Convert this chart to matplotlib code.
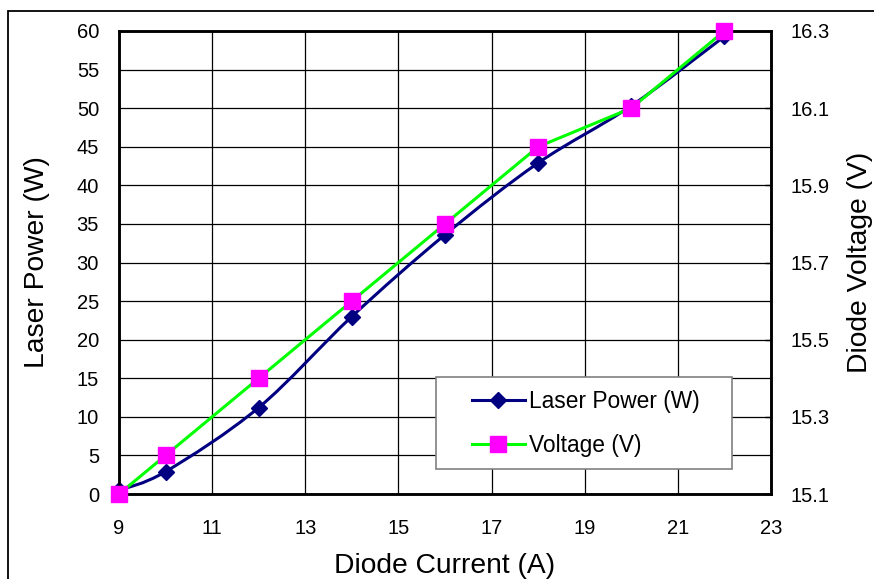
import numpy as np
import matplotlib
matplotlib.use("Agg")
import matplotlib.pyplot as plt
from matplotlib.path import Path
from matplotlib.patches import PathPatch, Rectangle
from matplotlib.lines import Line2D

plt.rcParams['font.family'] = ['Liberation Sans', 'DejaVu Sans']

current = [9, 10, 12, 14, 16, 18, 20, 22]
laser_power = [0.5, 2.9, 11.2, 23.0, 33.6, 42.9, 50.3, 59.3]
voltage = [15.1, 15.2, 15.4, 15.6, 15.8, 16.0, 16.1, 16.3]
x_ticks = [9, 11, 13, 15, 17, 19, 21, 23]
left_ticks = list(range(0, 61, 5))
right_ticks = [15.1, 15.3, 15.5, 15.7, 15.9, 16.1, 16.3]

NAVY = '#000080'
GREEN = '#00FF00'
MAGENTA = '#FF00FF'

fig = plt.figure(figsize=(8.74, 5.79), dpi=100)
W, H = 874, 579
AX_L, AX_R, AX_T, AX_B = 119, 771, 31, 494
ax = fig.add_axes([AX_L / W, 1 - AX_B / H, (AX_R - AX_L) / W, (AX_B - AX_T) / H])
ax2 = ax.twinx()


def axfrac(px, py):
    return ((px - AX_L) / (AX_R - AX_L), 1 - (py - AX_T) / (AX_B - AX_T))


# outer frame (partially cropped like the reference)
fig.patches.append(Rectangle((8 / W, -0.05), 1.1, 1 - 11 / H + 0.05, transform=fig.transFigure,
                             fill=False, edgecolor='black', linewidth=1.3, zorder=0))

ax.set_xlim(9, 23)
ax.set_ylim(0, 60)
ax2.set_ylim(15.1, 16.3)
ax.set_xticks(x_ticks)
ax.set_yticks(left_ticks)
ax2.set_yticks(right_ticks)
ax.grid(True, color='black', linewidth=0.9)
ax.tick_params(axis='x', length=0, labelsize=14.5, pad=18)
ax.tick_params(axis='y', length=0, labelsize=14.5, pad=14.4)
ax2.tick_params(axis='y', direction='in', length=4, width=1, labelsize=14.5, pad=14.4)
for a in (ax, ax2):
    for s in a.spines.values():
        s.set_linewidth(1.8)

ax.set_xlabel('Diode Current (A)', fontsize=20.3, labelpad=10.5)
ax.set_ylabel('Laser Power (W)', fontsize=20.3, labelpad=19)
ax2.set_ylabel('Diode Voltage (V)', fontsize=20.3, labelpad=12)

# smoothed laser power curve (Catmull-Rom style Bezier)
xs = np.array(current, float)
ys = np.array(laser_power, float)
verts = [(xs[0], ys[0])]
codes = [Path.MOVETO]
t = 1 / 6
n = len(xs)
for i in range(n - 1):
    p0 = (xs[max(i - 1, 0)], ys[max(i - 1, 0)])
    p1 = (xs[i], ys[i])
    p2 = (xs[i + 1], ys[i + 1])
    p3 = (xs[min(i + 2, n - 1)], ys[min(i + 2, n - 1)])
    c1 = (p1[0] + (p2[0] - p0[0]) * t, p1[1] + (p2[1] - p0[1]) * t)
    c2 = (p2[0] - (p3[0] - p1[0]) * t, p2[1] - (p3[1] - p1[1]) * t)
    verts += [c1, c2, p2]
    codes += [Path.CURVE4] * 3
ax.add_patch(PathPatch(Path(verts, codes), facecolor='none', edgecolor=NAVY, linewidth=2.2,
                       zorder=3, clip_on=False))
ax.plot(current, laser_power, linestyle='none', marker='D', color=NAVY, markersize=8,
        zorder=4, clip_on=False)

ax2.plot(current, voltage, color=GREEN, linewidth=2.2, marker='s', markersize=11.5,
         markerfacecolor=MAGENTA, markeredgecolor=MAGENTA, zorder=5, clip_on=False)

# legend frame
x0, y0 = axfrac(436, 469)
x1, y1 = axfrac(732, 377)
ax2.add_patch(Rectangle((x0, y0), x1 - x0, y1 - y0, transform=ax2.transAxes, facecolor='white',
                        edgecolor='#808080', linewidth=1.2, zorder=6))

handles = [
    Line2D([], [], color=NAVY, linewidth=2.2, marker='D', markersize=8),
    Line2D([], [], color=GREEN, linewidth=2.2, marker='s', markersize=11,
           markerfacecolor=MAGENTA, markeredgecolor=MAGENTA),
]
leg = ax2.legend(handles, ['Laser Power (W)', 'Voltage (V)'], loc='upper left',
                 bbox_to_anchor=axfrac(472, 390),
                 fontsize=16.4, frameon=False, borderpad=0, labelspacing=0.92,
                 handlelength=2.32, handletextpad=0.18, borderaxespad=0)
leg.set_zorder(7)

fig.savefig('out.png', dpi=100)
